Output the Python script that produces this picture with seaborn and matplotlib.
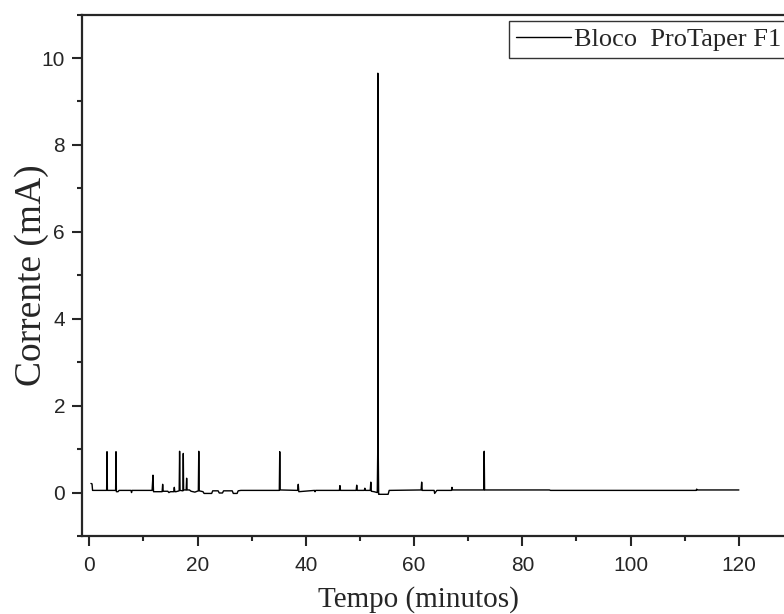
import numpy as np
import pandas as pd
import seaborn as sns
import matplotlib.pyplot as plt
from matplotlib.ticker import MultipleLocator

# valores (tempo em minutos, corrente em mA)
tempo = [0.3, 0.5, 0.6, 3.2, 3.27, 3.34, 4.86, 4.93, 5.0, 5.3, 5.5, 7.7, 7.8, 7.9,
         11.6, 11.76, 11.86, 12.0, 13.0, 13.45, 13.55, 13.65, 14.5, 14.7, 15.0,
         15.6, 15.7, 15.8, 16.0, 16.6, 16.68, 16.76, 17.3, 17.36, 17.42, 17.9,
         17.98, 18.06, 18.5, 18.8, 19.5, 20.14, 20.22, 20.3, 21.0, 21.2, 22.6,
         22.8, 23.8, 24.0, 24.6, 24.8, 26.4, 26.6, 27.3, 27.5, 28.0, 35.1, 35.18,
         35.26, 38.5, 38.6, 38.7, 41.6, 41.7, 41.8, 46.2, 46.3, 46.4, 49.3, 49.4,
         49.5, 50.8, 50.9, 51.0, 51.9, 52.0, 52.1, 52.6, 53.2, 53.28, 53.3, 53.38,
         53.45, 53.5, 55.2, 55.4, 61.3, 61.4, 61.5, 63.7, 63.8, 64.2, 66.9, 67.0,
         67.1, 72.88, 72.95, 73.02, 85.0, 85.2, 108.0, 108.2, 112.1, 112.2, 112.3,
         120.0]
corrente = [0.21, 0.2, 0.05, 0.05, 0.94, 0.05, 0.05, 0.94, 0.02, 0.02, 0.05, 0.05, 0.0,
            0.05, 0.05, 0.4, 0.02, 0.02, 0.02, 0.02, 0.19, 0.03, 0.03, 0.0, 0.02,
            0.02, 0.12, 0.02, 0.02, 0.04, 0.95, 0.05, 0.04, 0.9, 0.06, 0.06,
            0.33, 0.06, 0.06, 0.03, 0.01, 0.04, 0.95, 0.04, 0.02, -0.02, -0.02,
            0.04, 0.04, -0.01, -0.01, 0.04, 0.04, -0.02, -0.02, 0.04, 0.05, 0.05, 0.94,
            0.06, 0.05, 0.19, 0.02, 0.05, 0.02, 0.05, 0.05, 0.16, 0.05, 0.05, 0.17,
            0.05, 0.05, 0.1, 0.05, 0.05, 0.24, 0.03, 0.02, 0.0, 0.95, 9.65, 0.9,
            -0.04, -0.04, -0.04, 0.05, 0.06, 0.24, 0.05, 0.05, -0.02, 0.05, 0.05, 0.12,
            0.06, 0.06, 0.95, 0.06, 0.06, 0.05, 0.05, 0.05, 0.05, 0.08, 0.06,
            0.06]

df = pd.DataFrame({'Tempo': tempo, 'Corrente': corrente})

sns.set_style('ticks')
plt.rcParams['font.family'] = ['Liberation Sans', 'DejaVu Sans']

fig = plt.figure(figsize=(7.84, 6.14), dpi=100)
ax = fig.add_axes([0.1046, 0.127, 0.9069, 0.8493])

sns.lineplot(data=df, x='Tempo', y='Corrente', estimator=None, sort=False,
             color='black', linewidth=1.0, ax=ax, label='Bloco  ProTaper F1')

ax.set_xlim(-1.35, 130)
ax.set_ylim(-1, 11)
ax.xaxis.set_major_locator(MultipleLocator(20))
ax.xaxis.set_minor_locator(MultipleLocator(10))
ax.yaxis.set_major_locator(MultipleLocator(2))
ax.yaxis.set_minor_locator(MultipleLocator(1))
ax.tick_params(which='major', length=7.2, width=1.5, labelsize=15, pad=5)
ax.tick_params(which='minor', length=3.6, width=1.5)
ax.tick_params(axis='x', which='major', pad=7)

for s in ['left', 'bottom', 'top']:
    ax.spines[s].set_linewidth(1.6)
ax.spines['right'].set_visible(False)

ax.set_xlabel('Tempo (minutos)', family='Liberation Serif', fontsize=21,
              labelpad=8, x=0.4726)
ax.set_ylabel('Corrente (mA)', family='Liberation Serif', fontsize=27, labelpad=-5)

leg = ax.legend(loc='upper left', bbox_to_anchor=(0.6006, 0.9875),
                prop={'family': 'Liberation Serif', 'size': 19},
                frameon=True, fancybox=False, handlelength=2.1,
                handletextpad=0.12, borderpad=0.25, borderaxespad=0)
leg.get_frame().set_edgecolor('black')
leg.get_frame().set_linewidth(1.0)

plt.savefig('out.png', dpi=100)
